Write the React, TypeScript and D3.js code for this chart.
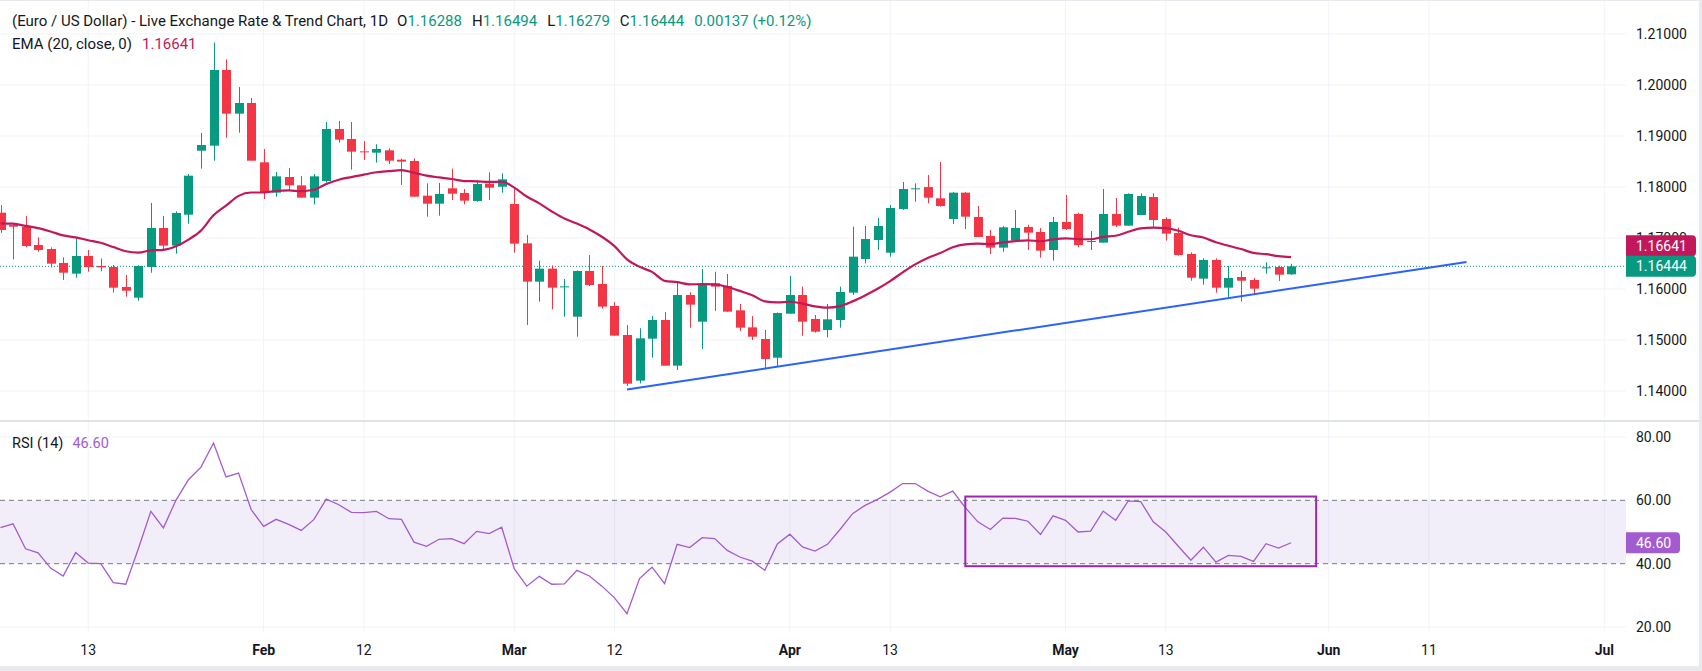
import React from "react";
import * as d3 from "d3";

// EUR/USD daily candles, Jan 2 .. May 27
const opens = [
  1.17497, 1.17255, 1.17222, 1.16863, 1.16784, 1.1651, 1.16301, 1.16647, 1.16451, 1.16431,
  1.16039, 1.1583, 1.16431, 1.17196, 1.1685, 1.17457, 1.18712, 1.1881, 1.20294, 1.19438,
  1.19647, 1.18484, 1.17889, 1.18196, 1.18032, 1.17791, 1.18118, 1.19137, 1.18941, 1.18699,
  1.18673, 1.18719, 1.18536, 1.1851, 1.1783, 1.17673, 1.17974, 1.17882, 1.17726, 1.18065,
  1.18006, 1.17667, 1.16895, 1.16144, 1.16399, 1.16046, 1.15457, 1.16353, 1.16098, 1.15667,
  1.15098, 1.14203, 1.15026, 1.15392, 1.14497, 1.15882, 1.15359, 1.16111, 1.16059, 1.15582,
  1.15248, 1.15019, 1.14653, 1.15516, 1.15882, 1.15412, 1.15196, 1.15392, 1.15928, 1.16588,
  1.16961, 1.16712, 1.17569, 1.17961, 1.17998, 1.17778, 1.17373, 1.17889, 1.17412, 1.17039,
  1.16811, 1.16948, 1.17216, 1.17118, 1.16765, 1.17314, 1.17471, 1.16928, 1.16909, 1.17471,
  1.17242, 1.17451, 1.17804, 1.17373, 1.17098, 1.16686, 1.16203, 1.16569, 1.16026, 1.16235,
  1.16176, 1.16412, 1.16431, 1.16288,
];
const highs = [
  1.17647, 1.17268, 1.17431, 1.17013, 1.16817, 1.16621, 1.16993, 1.16765, 1.16601, 1.16471,
  1.16275, 1.16464, 1.17686, 1.17431, 1.17523, 1.18255, 1.19059, 1.2083, 1.20503, 1.19961,
  1.19745, 1.18745, 1.18294, 1.18373, 1.18216, 1.18255, 1.19274, 1.19294, 1.19274, 1.18902,
  1.18837, 1.18758, 1.18556, 1.18562, 1.18072, 1.18078, 1.1836, 1.17961, 1.18137, 1.18288,
  1.18268, 1.17967, 1.17059, 1.16556, 1.16464, 1.16196, 1.16366, 1.16667, 1.16451, 1.15745,
  1.15294, 1.15229, 1.15471, 1.15549, 1.16157, 1.15935, 1.16392, 1.1634, 1.16294, 1.15706,
  1.15471, 1.15196, 1.15542, 1.16255, 1.16046, 1.1549, 1.15706, 1.16046, 1.17222, 1.17235,
  1.17392, 1.17647, 1.18098, 1.18072, 1.18235, 1.1849, 1.17902, 1.17902, 1.17627, 1.17157,
  1.17235, 1.17549, 1.17261, 1.17196, 1.17412, 1.17843, 1.17497, 1.17137, 1.17961, 1.17784,
  1.17876, 1.17876, 1.17876, 1.17405, 1.17203, 1.16719, 1.16601, 1.16601, 1.16451, 1.16353,
  1.16216, 1.16523, 1.16457, 1.16494,
];
const lows = [
  1.171, 1.16582, 1.16817, 1.16732, 1.16425, 1.16176, 1.16222, 1.1634, 1.16346, 1.15928,
  1.1585, 1.15771, 1.1632, 1.16778, 1.16693, 1.17281, 1.1836, 1.18516, 1.18967, 1.19065,
  1.18516, 1.17765, 1.1781, 1.17941, 1.17791, 1.1766, 1.18085, 1.18869, 1.1834, 1.18529,
  1.18477, 1.18451, 1.18039, 1.1781, 1.17418, 1.17438, 1.17745, 1.1766, 1.17712, 1.17745,
  1.17889, 1.16712, 1.15294, 1.15751, 1.15601, 1.15457, 1.15065, 1.16059, 1.15614, 1.15085,
  1.14098, 1.1415, 1.14653, 1.14497, 1.14412, 1.15242, 1.14824, 1.15569, 1.15556, 1.15176,
  1.15, 1.14425, 1.14477, 1.15516, 1.15085, 1.15144, 1.15052, 1.15242, 1.15882, 1.16503,
  1.16765, 1.16634, 1.17549, 1.17712, 1.1768, 1.17614, 1.17275, 1.17177, 1.1702, 1.16686,
  1.16732, 1.16948, 1.16765, 1.16614, 1.16555, 1.17157, 1.16817, 1.16765, 1.16909, 1.17216,
  1.17242, 1.17451, 1.17222, 1.16948, 1.16654, 1.16163, 1.16085, 1.15928, 1.1583, 1.15752,
  1.15882, 1.16301, 1.16157, 1.16279,
];
const closes = [
  1.17157, 1.17222, 1.16843, 1.16765, 1.16497, 1.1632, 1.16647, 1.16431, 1.16425, 1.16026,
  1.15967, 1.16451, 1.17196, 1.1685, 1.1749, 1.18222, 1.18823, 1.20294, 1.19438, 1.19647,
  1.18516, 1.17889, 1.18209, 1.18032, 1.17791, 1.18209, 1.19137, 1.18928, 1.18693, 1.18686,
  1.18745, 1.18516, 1.18497, 1.1781, 1.17673, 1.17863, 1.17869, 1.17732, 1.18059, 1.17987,
  1.1815, 1.16889, 1.16144, 1.16399, 1.16026, 1.16052, 1.16353, 1.16078, 1.15654, 1.15085,
  1.14144, 1.15033, 1.15392, 1.14497, 1.15882, 1.15693, 1.16111, 1.16046, 1.15556, 1.15242,
  1.15065, 1.14627, 1.15529, 1.15882, 1.15359, 1.15163, 1.15405, 1.15941, 1.16634, 1.1698,
  1.17235, 1.17588, 1.17961, 1.17974, 1.17791, 1.17627, 1.17889, 1.17418, 1.1702, 1.16811,
  1.17209, 1.17196, 1.17105, 1.16752, 1.17314, 1.17176, 1.16863, 1.16941, 1.17471, 1.17242,
  1.17863, 1.17824, 1.17353, 1.17085, 1.16667, 1.16222, 1.16569, 1.16026, 1.16216, 1.16163,
  1.16007, 1.16425, 1.16281, 1.16444,
];

// RSI (14) per bar
const rsiValues = [
  51.4, 52.6, 44.7, 43.4, 38.6, 36.1, 43.5, 40.2, 40.0, 34.0,
  33.5, 44.7, 56.5, 51.3, 60.0, 66.5, 70.5, 78.1, 67.4, 68.6,
  57.1, 51.8, 54.0, 52.4, 50.5, 53.9, 60.4, 58.6, 56.2, 56.1,
  56.5, 54.2, 54.0, 46.8, 45.5, 47.7, 47.9, 46.3, 50.2, 49.5,
  51.5, 38.4, 32.9, 36.0, 33.5, 33.6, 37.9, 36.1, 32.9, 29.2,
  24.2, 35.3, 38.9, 33.7, 46.1, 45.1, 48.2, 47.9, 44.2, 42.1,
  40.8, 37.9, 46.2, 49.3, 45.3, 44.0, 46.1, 50.8, 55.8, 58.4,
  60.3, 62.6, 65.3, 65.3, 62.9, 61.1, 62.9, 57.7, 53.2, 50.8,
  54.4, 54.3, 53.4, 49.2, 55.1, 53.7, 50.0, 50.3, 56.6, 53.7,
  59.8, 59.6, 53.2, 50.0, 45.5, 41.1, 45.2, 40.5, 42.6, 42.3,
  40.7, 46.3, 44.9, 46.6,
];

const tickDates = [
  "2026-01-13", "2026-02-02", "2026-02-12", "2026-03-02", "2026-03-12", "2026-04-01",
  "2026-04-13", "2026-05-01", "2026-05-13", "2026-06-01", "2026-06-11", "2026-07-01",
];
const tickLabels = ["13", "Feb", "12", "Mar", "12", "Apr", "13", "May", "13", "Jun", "11", "Jul"];
const priceTicks = [1.14, 1.15, 1.16, 1.17, 1.18, 1.19, 1.2, 1.21];
const rsiTicks = [80, 60, 40, 20];
const rsiBand = [60, 40];

// trend line (bar index, price) and RSI box (bar index, rsi)
const trendIdx = [50, 117];
const trendPrice = [1.1403, 1.1653];
const boxIdx = [77, 105];
const boxRsi = [61.2, 39.2];

const emaSeed = 1.173;
const headerOHLC = ["1.16288", "1.16494", "1.16279", "1.16444"];
const headerChange = "0.00137 (+0.12%)";
const lastPrice = 1.16444;
const lastEma = 1.16641;
const lastRsi = 46.6;

const W = 1702;
const H = 671;
const plotRight = 1626;
const rsiBottom = 632;
const GREEN = "#089981";
const RED = "#f23645";
const EMA_C = "#c2185b";
const RSI_C = "#a35bd0";
const TEXT = "#131722";
const GRID = "#f0f3fa";
const FONT = "Roboto, 'Noto Sans', sans-serif";

const parse = d3.timeParse("%Y-%m-%d");
const days = d3.timeDay
  .range(new Date(2026, 0, 2), new Date(2026, 6, 3))
  .filter((d) => d.getDay() !== 0 && d.getDay() !== 6);
const dayIndex = (s: string) => days.findIndex((d) => +d === +(parse(s) as Date));

export default function App() {
  const x = d3.scaleLinear().domain([0, 128]).range([0.5, 0.5 + 128 * 12.53]);
  const y = d3.scaleLinear().domain([1.14, 1.21]).range([391, 34]);
  const yr = d3.scaleLinear().domain([20, 80]).range([627, 437]);

  const ema: number[] = [];
  closes.forEach((c, i) => {
    const prev = i === 0 ? emaSeed : ema[i - 1];
    ema.push(prev + (2 / 21) * (c - prev));
  });

  const emaLine = d3.line<number>().x((_, i) => x(i)).y((v) => y(v)).curve(d3.curveMonotoneX)(ema) || "";
  const rsiLine = d3.line<number>().x((_, i) => x(i)).y((v) => yr(v))(rsiValues) || "";

  const bodyW = 9;
  const greenY = y(lastPrice);
  const redY = greenY - 20.5;

  return (
    <svg width={W} height={H} style={{ position: "absolute", left: 0, top: 0, display: "block" }} fontFamily={FONT}>
      <rect x={0} y={0} width={W} height={H} fill="#e8eaef" />
      <rect x={0} y={1} width={1699} height={665} fill="#ffffff" />

      {/* grid */}
      {priceTicks.map((p) => (
        <line key={"pg" + p} x1={0} x2={plotRight} y1={y(p)} y2={y(p)} stroke={GRID} />
      ))}
      {[80, 20].map((r) => (
        <line key={"rg" + r} x1={0} x2={plotRight} y1={yr(r)} y2={yr(r)} stroke={GRID} />
      ))}
      {tickDates.map((d) => (
        <line key={"vg" + d} x1={x(dayIndex(d))} x2={x(dayIndex(d))} y1={1} y2={rsiBottom} stroke={GRID} />
      ))}

      {/* pane separator */}
      <line x1={0} x2={1699} y1={421} y2={421} stroke="#e0e3eb" strokeWidth={2} />

      {/* header */}
      <text x={12} y={21} dominantBaseline="central" fontSize={15} fill={TEXT}>
        (Euro / US Dollar) - Live Exchange Rate &amp; Trend Chart, 1D
        {["O", "H", "L", "C"].map((k, i) => (
          <React.Fragment key={k}>
            <tspan dx={i === 0 ? 9 : 10}>{k}</tspan>
            <tspan fill={GREEN}>{headerOHLC[i]}</tspan>
          </React.Fragment>
        ))}
        <tspan dx={10} fill={GREEN}>{headerChange}</tspan>
      </text>
      <text x={12} y={44} dominantBaseline="central" fontSize={15} fill={TEXT}>
        EMA (20, close, 0)
        <tspan dx={10} fill={EMA_C}>{lastEma.toFixed(5)}</tspan>
      </text>

      {/* current price dotted line */}
      <line x1={0} x2={plotRight} y1={greenY} y2={greenY} stroke={GREEN} strokeDasharray="1 2" />

      {/* candles */}
      {opens.map((o, i) => {
        const c = closes[i];
        const up = c >= o;
        const col = up ? GREEN : RED;
        const top = y(Math.max(o, c));
        const bh = Math.max(1, y(Math.min(o, c)) - top);
        const cx = Math.round(x(i));
        return (
          <g key={"c" + i}>
            <line x1={cx + 0.5} x2={cx + 0.5} y1={y(highs[i])} y2={y(lows[i])} stroke={col} />
            <rect x={cx - 4} y={top} width={bodyW} height={bh} fill={col} />
          </g>
        );
      })}

      {/* EMA */}
      <path d={emaLine} fill="none" stroke={EMA_C} strokeWidth={2.2} />

      {/* trend line */}
      <line
        x1={x(trendIdx[0])}
        y1={y(trendPrice[0])}
        x2={x(trendIdx[1])}
        y2={y(trendPrice[1])}
        stroke="#2962ff"
        strokeWidth={2}
      />

      {/* price axis */}
      {priceTicks.map((p) => (
        <text key={"pl" + p} x={1636} y={y(p)} dominantBaseline="central" fontSize={14} fill={TEXT}>
          {p.toFixed(5)}
        </text>
      ))}
      <path d={`M${plotRight},${redY - 10.5}h66a4,4 0 0 1 4,4v13a4,4 0 0 1 -4,4h-66z`} fill={EMA_C} />
      <text x={1636} y={redY} dominantBaseline="central" fontSize={14} fill="#fff">
        {lastEma.toFixed(5)}
      </text>
      <path d={`M${plotRight},${greenY - 10.5}h66a4,4 0 0 1 4,4v13a4,4 0 0 1 -4,4h-66z`} fill={GREEN} />
      <text x={1636} y={greenY} dominantBaseline="central" fontSize={14} fill="#fff">
        {lastPrice.toFixed(5)}
      </text>

      {/* RSI pane */}
      <rect x={0} y={yr(rsiBand[0])} width={plotRight} height={yr(rsiBand[1]) - yr(rsiBand[0])} fill="#7e57c2" fillOpacity={0.1} />
      {rsiBand.map((r) => (
        <line key={"rb" + r} x1={0} x2={plotRight} y1={yr(r)} y2={yr(r)} stroke="#787b86" strokeDasharray="5 4" />
      ))}
      <path d={rsiLine} fill="none" stroke={RSI_C} strokeWidth={1.3} />
      <rect
        x={x(boxIdx[0])}
        y={yr(boxRsi[0])}
        width={x(boxIdx[1]) - x(boxIdx[0])}
        height={yr(boxRsi[1]) - yr(boxRsi[0])}
        fill="none"
        stroke="#9c27b0"
        strokeWidth={2}
      />
      <text x={12} y={443} dominantBaseline="central" fontSize={14.5} fill={TEXT}>
        RSI (14)
        <tspan dx={9} fill={RSI_C}>{lastRsi.toFixed(2)}</tspan>
      </text>
      {rsiTicks.map((r) => (
        <text key={"rl" + r} x={1636} y={yr(r)} dominantBaseline="central" fontSize={14} fill={TEXT}>
          {r.toFixed(2)}
        </text>
      ))}
      <path d={`M${plotRight},${yr(lastRsi) - 10.5}h50a4,4 0 0 1 4,4v13a4,4 0 0 1 -4,4h-50z`} fill={RSI_C} />
      <text x={1636} y={yr(lastRsi)} dominantBaseline="central" fontSize={14} fill="#fff">
        {lastRsi.toFixed(2)}
      </text>

      {/* time axis */}
      {tickDates.map((d, i) => (
        <text
          key={"tl" + d}
          x={x(dayIndex(d))}
          y={650}
          textAnchor="middle"
          dominantBaseline="central"
          fontSize={14}
          fontWeight={/^\d/.test(tickLabels[i]) ? 400 : 700}
          fill={TEXT}
        >
          {tickLabels[i]}
        </text>
      ))}
    </svg>
  );
}
